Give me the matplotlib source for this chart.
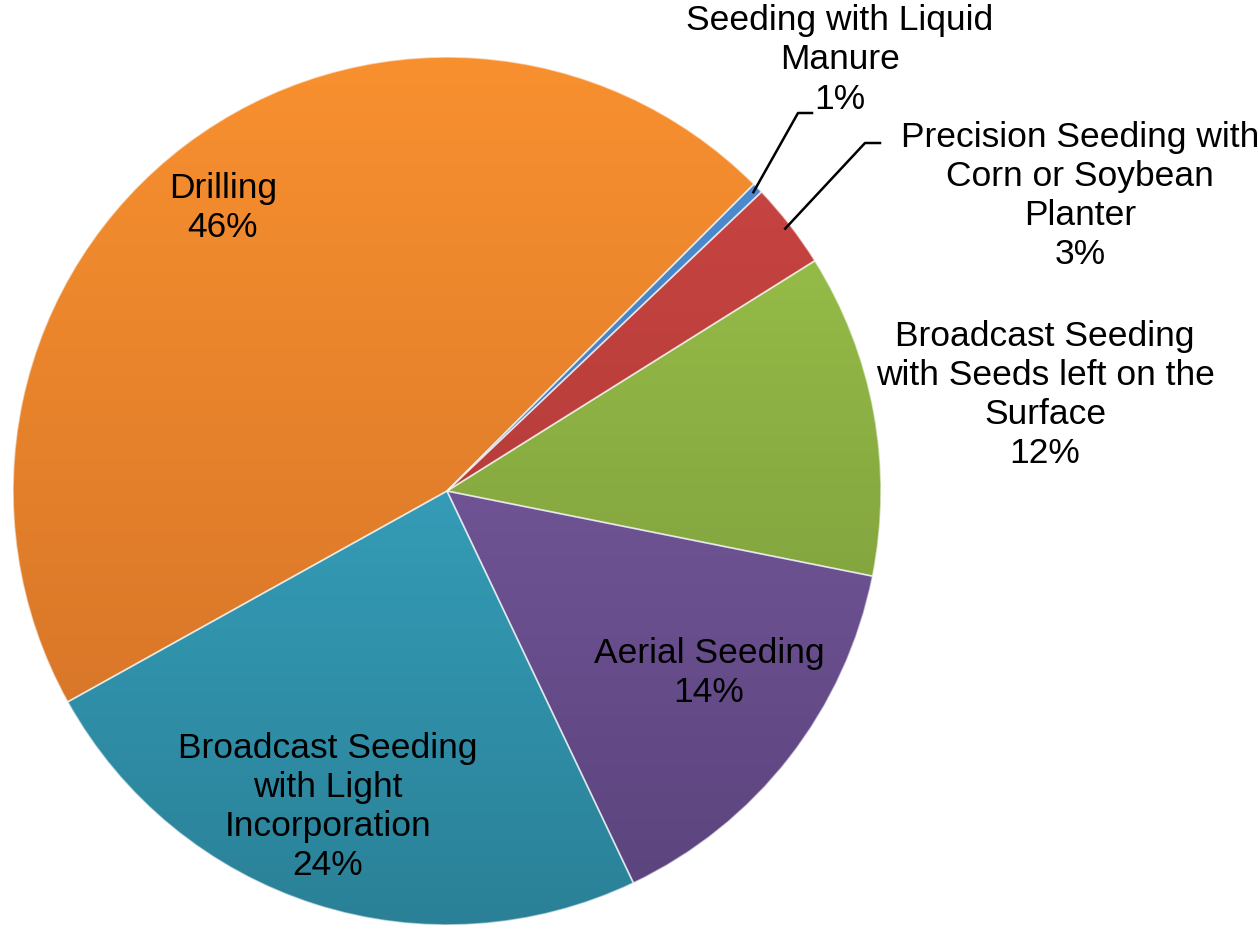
import numpy as np
import matplotlib.pyplot as plt
from matplotlib.colors import LinearSegmentedColormap

plt.rcParams["font.family"] = ["Liberation Sans", "DejaVu Sans"]

categories = ["Seeding with Liquid\nManure",
              "Precision Seeding with\nCorn or Soybean\nPlanter",
              "Broadcast Seeding\nwith Seeds left on the\nSurface",
              "Aerial Seeding",
              "Broadcast Seeding\nwith Light\nIncorporation",
              "Drilling"]
shares = [0.4, 3.2, 12.05, 14.8, 24.0, 45.6]
pct_labels = ["1%", "3%", "12%", "14%", "24%", "46%"]

# light (top) / dark (bottom) shade per slice
tops = ["#4f8fd6", "#cc4643", "#9fc84c", "#8464ad", "#3fb6d6", "#f8902f"]
bottoms = ["#3a6ea8", "#a33532", "#728f37", "#5a437c", "#2a8197", "#cf6f27"]

# label centres in pixels (y down)
label_pos = [(840, 60), (1080, 196), (1045, 395), (709, 673), (328, 807), (223, 208)]

W, H = 1258, 930
cx, cy, r = 447, H - 491, 434

fig = plt.figure(figsize=(W / 100, H / 100), dpi=100)
ax = fig.add_axes([0, 0, 1, 1])

wedges, _ = ax.pie(shares, startangle=45, counterclock=False, center=(cx, cy), radius=r,
                   wedgeprops=dict(edgecolor=(1, 1, 1, 0.55), linewidth=1.2))

grad = np.linspace(0, 1, 256).reshape(-1, 1)
for w, top, bot in zip(wedges, tops, bottoms):
    cmap = LinearSegmentedColormap.from_list("g", [bot, top])
    im = ax.imshow(grad, extent=[cx - r, cx + r, cy - r, cy + r], origin="lower",
                   cmap=cmap, aspect="auto", zorder=1.5, interpolation="bilinear")
    im.set_clip_path(w)
    w.set_facecolor("none")
    w.set_zorder(2)

for i, (name, pct) in enumerate(zip(categories, pct_labels)):
    x, y = label_pos[i]
    ax.text(x, H - y, name + "\n" + pct, ha="center", va="center", fontsize=25.5,
            linespacing=1.24, zorder=5)

# leader lines for the two thin slices
ends = [(798, 812, 113), (865, 880, 143)]
for w, (xe, xh, ye) in zip(wedges[:2], ends):
    mid = np.deg2rad((w.theta1 + w.theta2) / 2)
    x0 = cx + (r - 6) * np.cos(mid)
    y0 = cy + (r - 6) * np.sin(mid)
    ax.plot([x0, xe, xh], [y0, H - ye, H - ye], color="black", lw=1.8, zorder=4)

ax.set_xlim(0, W)
ax.set_ylim(0, H)
ax.set_aspect("equal")
ax.axis("off")

fig.savefig("out.png", dpi=100, facecolor="white")
